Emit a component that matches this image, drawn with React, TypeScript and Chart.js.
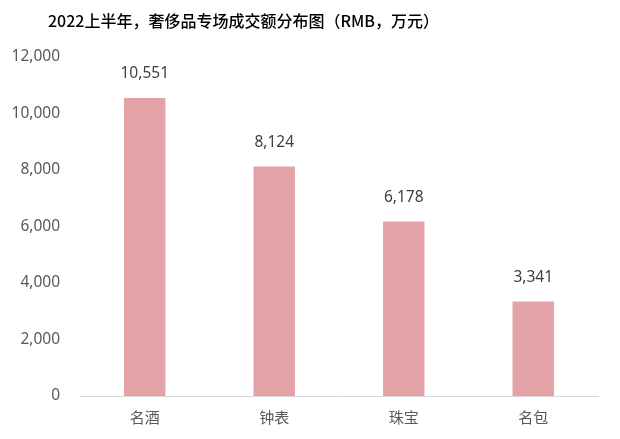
import React, { useEffect, useRef } from "react";
import { Chart, registerables } from "chart.js";

Chart.register(...registerables);

const categories = ["名酒", "钟表", "珠宝", "名包"];
const values = [10551, 8124, 6178, 3341];
const yMax = 12000;
const yStep = 2000;
const title = "2022上半年，奢侈品专场成交额分布图（RMB，万元）";

const FONT = "'Noto Sans', 'Noto Sans CJK SC', sans-serif";

const valueLabels = {
  id: "valueLabels",
  afterDatasetsDraw(chart: any) {
    const ctx = chart.ctx;
    const meta = chart.getDatasetMeta(0);
    ctx.save();
    ctx.font = `15.5px ${FONT}`;
    ctx.fillStyle = "#404040";
    ctx.textAlign = "center";
    ctx.textBaseline = "middle";
    meta.data.forEach((bar: any, i: number) => {
      const v = chart.data.datasets[0].data[i] as number;
      ctx.fillText(v.toLocaleString("en-US"), bar.x, bar.y - 24);
    });
    ctx.restore();
  },
};

export default function App() {
  const ref = useRef<HTMLCanvasElement>(null);
  useEffect(() => {
    if (!ref.current) return;
    const chart = new Chart(ref.current, {
      type: "bar",
      data: {
        labels: categories,
        datasets: [
          {
            data: values,
            backgroundColor: "#e3a3a6",
            barPercentage: 0.32,
            categoryPercentage: 1,
          },
        ],
      },
      options: {
        animation: false,
        responsive: false,
        maintainAspectRatio: false,
        layout: { padding: { top: 57, right: 22, bottom: 0, left: 0 } },
        plugins: {
          legend: { display: false },
          tooltip: { enabled: false },
          title: { display: false },
        },
        scales: {
          x: {
            grid: { display: false, drawTicks: false },
            border: { display: true, color: "#d9d9d9", width: 1 },
            ticks: {
              color: "#595959",
              font: { family: "'Noto Sans CJK SC', sans-serif", size: 15 },
              padding: 12,
            },
            afterFit(s: any) {
              s.height = 43;
            },
          },
          y: {
            min: 0,
            max: yMax,
            grid: { display: false, drawTicks: false },
            border: { display: false },
            ticks: {
              stepSize: yStep,
              color: "#595959",
              font: { family: FONT, size: 15.5 },
              padding: 20,
              callback: (v: any) => Number(v).toLocaleString("en-US"),
            },
            afterFit(s: any) {
              s.width = 80;
            },
          },
        },
      },
      plugins: [valueLabels],
    });
    return () => chart.destroy();
  }, []);
  return (
    <div
      style={{
        position: "fixed",
        left: 0,
        top: 0,
        width: 620,
        height: 439,
        background: "#fff",
      }}
    >
      <div
        style={{
          position: "absolute",
          left: 48,
          top: 9,
          fontFamily: "'Noto Sans CJK SC', 'Noto Sans', sans-serif",
          fontSize: 16,
          fontWeight: 500,
          color: "#000",
          lineHeight: "22px",
          whiteSpace: "nowrap",
        }}
      >
        {title}
      </div>
      <canvas ref={ref} width={620} height={439} />
    </div>
  );
}
